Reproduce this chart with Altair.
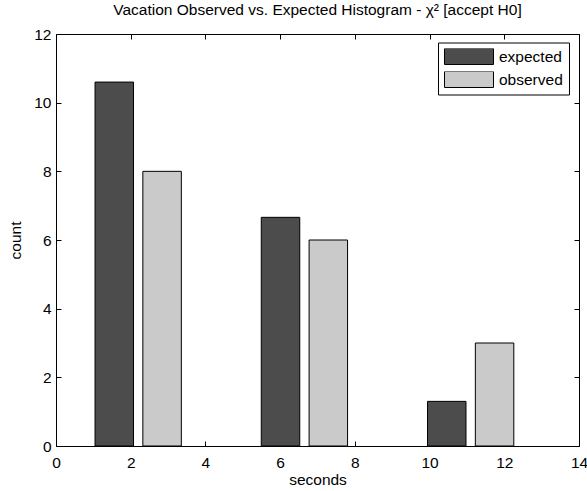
import altair as alt
import pandas as pd

# ---- data ----
bin_centers = [2.2, 6.65, 11.1]          # seconds (bin centres)
expected = [10.6, 6.66, 1.3]             # count
observed = [8.0, 6.0, 3.0]               # count
series = ["expected", "observed"]
x_ticks = [0, 2, 4, 6, 8, 10, 12, 14]
y_ticks = [0, 2, 4, 6, 8, 10, 12]

# ---- layout / style constants ----
BAR_W = 1.03
BAR_SHIFT = 0.64
W, H = 523, 412
FONT = "Liberation Sans"
FS = 15.5

rows = []
for c, e, o in zip(bin_centers, expected, observed):
    for s, v, sh in ((series[0], e, -BAR_SHIFT), (series[1], o, BAR_SHIFT)):
        rows.append({"series": s, "x0": c + sh - BAR_W / 2, "x1": c + sh + BAR_W / 2, "value": v})
df = pd.DataFrame(rows)

xs = alt.Scale(domain=[0, 14], nice=False, zero=False, padding=0)
ys = alt.Scale(domain=[0, 12], nice=False, padding=0)

common_axis = dict(labelFont=FONT, labelFontSize=FS, labelColor="black",
                   titleFont=FONT, titleFontSize=FS, titleColor="black",
                   titleFontWeight="normal", domainColor="black", tickColor="black",
                   grid=False, labelFlush=False, labelOverlap=False)

bars = alt.Chart(df).mark_bar(stroke="black", strokeWidth=1, opacity=1).encode(
    x=alt.X("x0:Q", scale=xs, axis=alt.Axis(orient="bottom", values=x_ticks, ticks=False,
                                             domain=False, labelPadding=9, title="seconds",
                                             titlePadding=2, **common_axis)),
    x2="x1:Q",
    y=alt.Y("value:Q", scale=ys, axis=alt.Axis(orient="left", values=y_ticks, ticks=False,
                                                domain=False, labelPadding=5, title="count",
                                                titlePadding=10, **common_axis)),
    y2=alt.datum(0),
    color=alt.Color("series:N",
                    scale=alt.Scale(domain=series, range=["#4c4c4c", "#cacaca"]),
                    legend=alt.Legend(title=None, orient="none", legendX=382, legendY=8.5,
                                      symbolType="M-1,-0.3265H1V0.3265H-1Z", symbolSize=2401,
                                      clipHeight=16,
                                      symbolStrokeColor="black", symbolStrokeWidth=1,
                                      symbolOpacity=1,
                                      labelFont=FONT, labelFontSize=FS, labelColor="black",
                                      labelOffset=5, rowPadding=6, padding=6,
                                      strokeColor="black", fillColor="white", cornerRadius=0)),
)

tick_axis = dict(labels=False, domain=False, ticks=True, tickSize=5, title=None,
                 tickColor="black", grid=False)

inner1 = alt.Chart(df).mark_point(opacity=0).encode(
    x=alt.X("x0:Q", scale=xs, axis=alt.Axis(orient="top", offset=-H, values=x_ticks, **tick_axis)),
    y=alt.Y("value:Q", scale=ys, axis=alt.Axis(orient="right", offset=-W, values=y_ticks, **tick_axis)),
)
inner2 = alt.Chart(df).mark_point(opacity=0).encode(
    x=alt.X("x0:Q", scale=xs, axis=alt.Axis(orient="bottom", offset=-H, values=x_ticks, **tick_axis)),
    y=alt.Y("value:Q", scale=ys, axis=alt.Axis(orient="left", offset=-W, values=y_ticks, **tick_axis)),
)

chart = alt.layer(bars, inner1, inner2).resolve_axis(
    x="independent", y="independent"
).properties(
    width=W, height=H,
    title=alt.TitleParams("Vacation Observed vs. Expected Histogram - χ² [accept H0]",
                          font=FONT, fontSize=FS, fontWeight="normal", color="black",
                          anchor="middle", offset=9),
    autosize=alt.AutoSizeParams(type="none"),
    padding={"left": 56, "top": 34, "right": 8, "bottom": 45},
    background="white",
).configure_view(stroke="black", strokeWidth=1)

chart.save("out.html", embed_options={"renderer": "svg", "actions": False})
